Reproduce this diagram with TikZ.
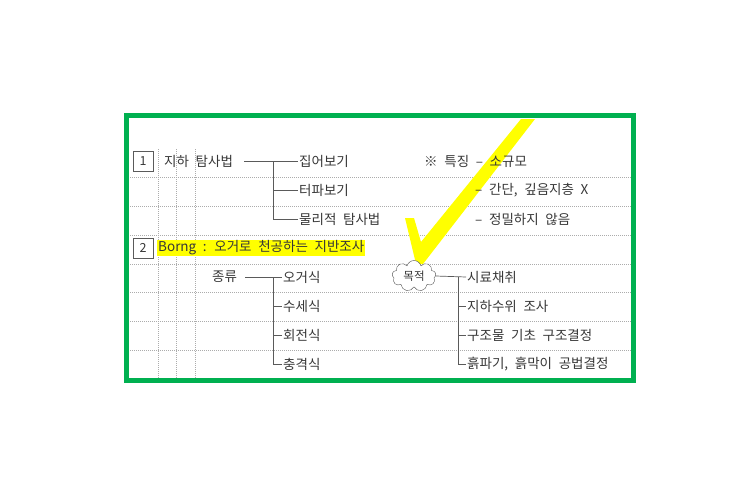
\documentclass[tikz,border=0pt]{standalone}
\usepackage{fontspec}
\newfontfamily\krfont[WordSpace=2.2]{Noto Sans CJK KR}
\usetikzlibrary{shapes.symbols,positioning}
\definecolor{framegreen}{RGB}{0,176,80}
\definecolor{txtgray}{RGB}{55,55,55}
\definecolor{linegray}{RGB}{90,90,90}
\definecolor{marker}{RGB}{255,255,0}

\tikzset{
    txt/.style={anchor=west,inner sep=1pt,text=txtgray,font=\krfont\fontsize{13.5}{15}\selectfont},
    numbox/.style={draw=linegray,rectangle,minimum width=20pt,minimum height=20pt,inner sep=0pt,text=txtgray,font=\krfont\fontsize{12.5}{14}\selectfont},
    tree/.style={draw=linegray,line width=0.7pt},
    ruling/.style={draw=gray!65,line width=0.5pt,dash pattern=on 1pt off 1pt},
}

\begin{document}
\begin{tikzpicture}[x=1pt,y=-1pt]
    \useasboundingbox (0,0) rectangle (743,500);
    % dotted ruling
    \foreach \y in {177,206,235,264,292,321,350}
        \draw[ruling] (128,\y) -- (631,\y);
    \foreach \x in {158,176,195}
        \draw[ruling] (\x,149) -- (\x,378);
    % check mark
    \fill[marker] (521,119) -- (535,119) -- (423,264) -- (416,264)
        -- (405,218) -- (414,218) -- (421,242) -- cycle;
    \path
        (143,161)   node[numbox] (n1) {1}
        (163,161)   node[txt] (jh) {지하 탐사법}
        (298,161)   node[txt] (jo) {집어보기}
     ++ (0,29)      node[txt] (tp) {터파보기}
     ++ (0,29)      node[txt] (mr) {물리적 탐사법}
        (423,161)   node[txt] (tj) {※ 특징 – 소규모}
        (474,190)   node[txt] (gd) {– 간단, 깊음지층 X}
     ++ (0,29)      node[txt] (jm) {– 정밀하지 않음}
        (143,248)   node[numbox] (n2) {2}
        (157,248)   node[txt,fill=marker] (bo) {Borng : 오거로 천공하는 지반조사}
        (211,277)   node[txt] (jr) {종류}
        (282,277)   node[txt] (og) {오거식}
     ++ (0,29)      node[txt] (ss) {수세식}
     ++ (0,29)      node[txt] (hj) {회전식}
     ++ (0,29)      node[txt] (cg) {충격식}
        (414,276)   node[cloud,draw=linegray,fill=white,cloud puffs=9,aspect=1.5,
                         minimum width=44pt,minimum height=31pt,inner sep=0pt,
                         text=txtgray,font=\krfont\fontsize{11.5}{13}\selectfont] (mj) {목적}
        (466,277)   node[txt] (sr) {시료채취}
     ++ (0,29)      node[txt] (js) {지하수위 조사}
     ++ (0,29)      node[txt] (gj) {구조물 기초 구조결정}
     ++ (0,29)      node[txt] (hp) {흙파기, 흙막이 공법결정}
        ;
    \coordinate (b1) at (273,161);
    \coordinate (b2) at (273,277);
    \coordinate (b3) at (458,277);
    \draw[tree] (jh.east) ++(10pt,0) -- (jo.west);
    \draw[tree] (b1) |- (tp.west);
    \draw[tree] (b1) |- (mr.west);
    \draw[tree] (jr.east) ++(7pt,0) -- (og.west);
    \draw[tree] (b2) |- (ss.west);
    \draw[tree] (b2) |- (hj.west);
    \draw[tree] (b2) |- (cg.west);
    \draw[tree] (mj.east) -- (sr.west);
    \draw[tree] (b3) |- (js.west);
    \draw[tree] (b3) |- (gj.west);
    \draw[tree] (b3) |- (hp.west);
    % frame
    \draw[framegreen,line width=5pt] (126.5,115.5) rectangle (633.5,380.5);
\end{tikzpicture}
\end{document}
